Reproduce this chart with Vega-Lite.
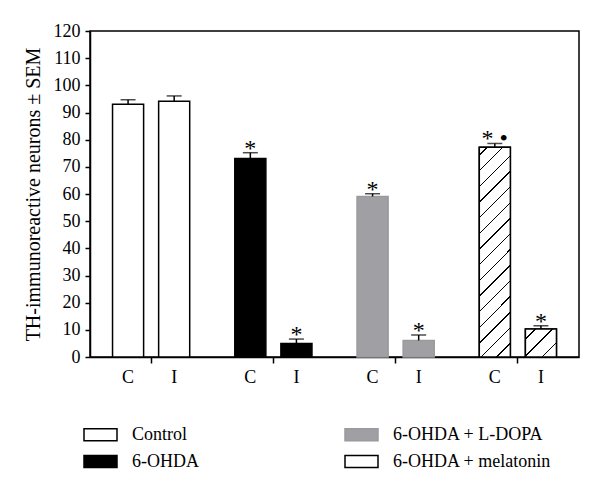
{
  "$schema": "https://vega.github.io/schema/vega-lite/v6.json",
  "width": 489,
  "height": 326,
  "autosize": "none",
  "padding": {"left": 90, "top": 31, "right": 21, "bottom": 137},
  "background": "white",
  "config": {
    "font": "Liberation Serif",
    "view": {"stroke": "black", "strokeWidth": 1.5},
    "axis": {
      "grid": false,
      "domainColor": "black",
      "domainWidth": 1.5,
      "tickColor": "black",
      "tickWidth": 1.5,
      "labelColor": "black",
      "titleColor": "black",
      "labelFont": "Liberation Serif",
      "titleFont": "Liberation Serif",
      "titleFontWeight": "normal"
    },
    "legend": {"labelFont": "Liberation Serif", "labelColor": "black", "labelFontSize": 18}
  },
  "data": {
    "values": [
      {"group": "Control", "cond": "C", "mean": 93.0, "upper": 94.7, "sig": ""},
      {"group": "Control", "cond": "I", "mean": 94.1, "upper": 96.1, "sig": ""},
      {"group": "6-OHDA", "cond": "C", "mean": 73.1, "upper": 75.2, "sig": "*"},
      {"group": "6-OHDA", "cond": "I", "mean": 5.0, "upper": 6.6, "sig": "*"},
      {"group": "6-OHDA + L-DOPA", "cond": "C", "mean": 59.1, "upper": 60.1, "sig": "*"},
      {"group": "6-OHDA + L-DOPA", "cond": "I", "mean": 6.1, "upper": 8.1, "sig": "*"},
      {"group": "6-OHDA + melatonin", "cond": "C", "mean": 77.2, "upper": 78.6, "sig": "* •"},
      {"group": "6-OHDA + melatonin", "cond": "I", "mean": 10.3, "upper": 11.5, "sig": "*"}
    ]
  },
  "encoding": {
    "x": {
      "field": "group",
      "type": "nominal",
      "scale": {"domain": ["Control", "6-OHDA", "6-OHDA + L-DOPA", "6-OHDA + melatonin"], "paddingInner": 0, "paddingOuter": 0},
      "axis": {"labels": false, "title": null, "tickSize": 6, "domain": true}
    },
    "xOffset": {
      "field": "cond",
      "type": "nominal",
      "scale": {"domain": ["C", "I"], "paddingInner": 0.326, "paddingOuter": 0.489}
    }
  },
  "layer": [
    {
      "mark": {"type": "bar", "strokeWidth": 1.5},
      "encoding": {
        "y": {
          "field": "mean",
          "type": "quantitative",
          "scale": {"domain": [0, 120], "nice": false},
          "axis": {"title": "TH-immunoreactive neurons ± SEM", "values": [0, 10, 20, 30, 40, 50, 60, 70, 80, 90, 100, 110, 120], "labelOverlap": false, "labelFontSize": 18, "titleFontSize": 20, "tickSize": 5, "labelPadding": 5, "titlePadding": 10}
        },
        "fill": {
          "field": "group",
          "type": "nominal",
          "scale": {
            "domain": ["Control", "6-OHDA", "6-OHDA + L-DOPA", "6-OHDA + melatonin"],
            "range": ["white", "black", "#a0a0a4", "white"]
          },
          "legend": {
            "orient": "none",
            "legendX": -7,
            "legendY": 386,
            "title": null,
            "columns": 2,
            "columnPadding": 143,
            "rowPadding": -7,
            "symbolType": "M-1,-0.36L1,-0.36L1,0.36L-1,0.36Z",
            "symbolSize": 1089,
            "symbolStrokeWidth": 1.5,
            "labelFont": "Liberation Serif",
            "labelFontSize": 18,
            "labelOffset": 14,
            "encoding": {
              "symbols": {
                "fill": {
                  "value": {
                    "expr": "datum.value === '6-OHDA + melatonin' ? {gradient: 'linear', x1: 0, y1: 0, x2: 1.205, y2: 0.438, stops: [{offset: 0, color: 'white'}, {offset: 0.2, color: 'white'}, {offset: 0.2, color: 'black'}, {offset: 0.24, color: 'black'}, {offset: 0.24, color: 'white'}, {offset: 0.5, color: 'white'}, {offset: 0.5, color: 'black'}, {offset: 0.54, color: 'black'}, {offset: 0.54, color: 'white'}, {offset: 0.8, color: 'white'}, {offset: 0.8, color: 'black'}, {offset: 0.84, color: 'black'}, {offset: 0.84, color: 'white'}, {offset: 1, color: 'white'}]} : scale('fill', datum.value)"
                  }
                }
              }
            }
          }
        },
        "stroke": {
          "field": "group",
          "type": "nominal",
          "scale": {
            "domain": ["Control", "6-OHDA", "6-OHDA + L-DOPA", "6-OHDA + melatonin"],
            "range": ["black", "black", "#9a9a9e", "black"]
          }
        }
      }
    },
    {
      "transform": [{"filter": "datum.group === '6-OHDA + melatonin' && datum.cond === 'C'"}],
      "mark": {
        "type": "bar",
        "stroke": "black",
        "strokeWidth": 1.5,
        "fill": {
          "gradient": "linear",
          "x1": 0, "y1": 0, "x2": 0.167, "y2": 1.124,
          "stops": [
            {"offset": 0, "color": "white"},
            {"offset": 0.03, "color": "white"}, {"offset": 0.03, "color": "black"}, {"offset": 0.036, "color": "black"}, {"offset": 0.036, "color": "white"},
            {"offset": 0.095, "color": "white"}, {"offset": 0.095, "color": "black"}, {"offset": 0.101, "color": "black"}, {"offset": 0.101, "color": "white"},
            {"offset": 0.16, "color": "white"}, {"offset": 0.16, "color": "black"}, {"offset": 0.166, "color": "black"}, {"offset": 0.166, "color": "white"},
            {"offset": 0.225, "color": "white"}, {"offset": 0.225, "color": "black"}, {"offset": 0.231, "color": "black"}, {"offset": 0.231, "color": "white"},
            {"offset": 0.29, "color": "white"}, {"offset": 0.29, "color": "black"}, {"offset": 0.296, "color": "black"}, {"offset": 0.296, "color": "white"},
            {"offset": 0.355, "color": "white"}, {"offset": 0.355, "color": "black"}, {"offset": 0.361, "color": "black"}, {"offset": 0.361, "color": "white"},
            {"offset": 0.42, "color": "white"}, {"offset": 0.42, "color": "black"}, {"offset": 0.426, "color": "black"}, {"offset": 0.426, "color": "white"},
            {"offset": 0.485, "color": "white"}, {"offset": 0.485, "color": "black"}, {"offset": 0.491, "color": "black"}, {"offset": 0.491, "color": "white"},
            {"offset": 0.55, "color": "white"}, {"offset": 0.55, "color": "black"}, {"offset": 0.556, "color": "black"}, {"offset": 0.556, "color": "white"},
            {"offset": 0.615, "color": "white"}, {"offset": 0.615, "color": "black"}, {"offset": 0.621, "color": "black"}, {"offset": 0.621, "color": "white"},
            {"offset": 0.68, "color": "white"}, {"offset": 0.68, "color": "black"}, {"offset": 0.686, "color": "black"}, {"offset": 0.686, "color": "white"},
            {"offset": 0.745, "color": "white"}, {"offset": 0.745, "color": "black"}, {"offset": 0.751, "color": "black"}, {"offset": 0.751, "color": "white"},
            {"offset": 0.81, "color": "white"}, {"offset": 0.81, "color": "black"}, {"offset": 0.816, "color": "black"}, {"offset": 0.816, "color": "white"},
            {"offset": 0.875, "color": "white"}, {"offset": 0.875, "color": "black"}, {"offset": 0.881, "color": "black"}, {"offset": 0.881, "color": "white"},
            {"offset": 0.94, "color": "white"}, {"offset": 0.94, "color": "black"}, {"offset": 0.946, "color": "black"}, {"offset": 0.946, "color": "white"},
            {"offset": 1, "color": "white"}
          ]
        }
      },
      "encoding": {
        "y": {"field": "mean", "type": "quantitative", "axis": {"title": "TH-immunoreactive neurons ± SEM", "values": [0, 10, 20, 30, 40, 50, 60, 70, 80, 90, 100, 110, 120], "labelOverlap": false, "labelFontSize": 18, "titleFontSize": 20, "tickSize": 5, "labelPadding": 5, "titlePadding": 10}}
      }
    },
    {
      "transform": [{"filter": "datum.group === '6-OHDA + melatonin' && datum.cond === 'I'"}],
      "mark": {
        "type": "bar",
        "stroke": "black",
        "strokeWidth": 1.5,
        "fill": {
          "gradient": "linear",
          "x1": 0, "y1": 0, "x2": 1.048, "y2": 0.946,
          "stops": [
            {"offset": 0, "color": "white"},
            {"offset": 0.16, "color": "white"}, {"offset": 0.16, "color": "black"}, {"offset": 0.185, "color": "black"}, {"offset": 0.185, "color": "white"},
            {"offset": 0.45, "color": "white"}, {"offset": 0.45, "color": "black"}, {"offset": 0.475, "color": "black"}, {"offset": 0.475, "color": "white"},
            {"offset": 0.74, "color": "white"}, {"offset": 0.74, "color": "black"}, {"offset": 0.765, "color": "black"}, {"offset": 0.765, "color": "white"},
            {"offset": 1, "color": "white"}
          ]
        }
      },
      "encoding": {
        "y": {"field": "mean", "type": "quantitative", "axis": {"title": "TH-immunoreactive neurons ± SEM", "values": [0, 10, 20, 30, 40, 50, 60, 70, 80, 90, 100, 110, 120], "labelOverlap": false, "labelFontSize": 18, "titleFontSize": 20, "tickSize": 5, "labelPadding": 5, "titlePadding": 10}}
      }
    },
    {
      "mark": {"type": "rule", "color": "black", "strokeWidth": 1.5},
      "encoding": {
        "y": {"field": "mean", "type": "quantitative", "axis": {"title": "TH-immunoreactive neurons ± SEM", "values": [0, 10, 20, 30, 40, 50, 60, 70, 80, 90, 100, 110, 120], "labelOverlap": false, "labelFontSize": 18, "titleFontSize": 20, "tickSize": 5, "labelPadding": 5, "titlePadding": 10}},
        "y2": {"field": "upper"}
      }
    },
    {
      "mark": {"type": "tick", "color": "black", "size": 15, "thickness": 1.5},
      "encoding": {
        "y": {"field": "upper", "type": "quantitative", "axis": {"title": "TH-immunoreactive neurons ± SEM", "values": [0, 10, 20, 30, 40, 50, 60, 70, 80, 90, 100, 110, 120], "labelOverlap": false, "labelFontSize": 18, "titleFontSize": 20, "tickSize": 5, "labelPadding": 5, "titlePadding": 10}}
      }
    },
    {
      "mark": {"type": "text", "fontSize": 24, "baseline": "alphabetic", "dy": 3, "color": "black", "font": "Liberation Serif"},
      "encoding": {
        "y": {"field": "upper", "type": "quantitative", "axis": {"title": "TH-immunoreactive neurons ± SEM", "values": [0, 10, 20, 30, 40, 50, 60, 70, 80, 90, 100, 110, 120], "labelOverlap": false, "labelFontSize": 18, "titleFontSize": 20, "tickSize": 5, "labelPadding": 5, "titlePadding": 10}},
        "text": {"field": "sig"}
      }
    },
    {
      "mark": {"type": "text", "fontSize": 18, "baseline": "middle", "dy": 21, "color": "black", "font": "Liberation Serif"},
      "encoding": {
        "y": {"datum": 0, "type": "quantitative", "axis": {"title": "TH-immunoreactive neurons ± SEM", "values": [0, 10, 20, 30, 40, 50, 60, 70, 80, 90, 100, 110, 120], "labelOverlap": false, "labelFontSize": 18, "titleFontSize": 20, "tickSize": 5, "labelPadding": 5, "titlePadding": 10}},
        "text": {"field": "cond"}
      }
    }
  ]
}
